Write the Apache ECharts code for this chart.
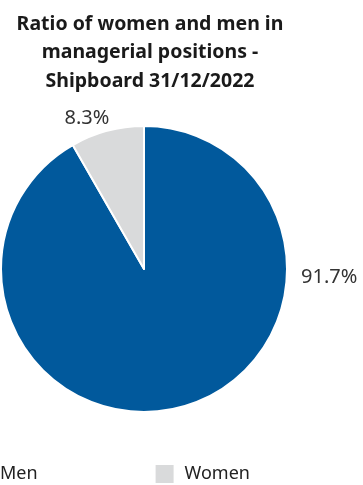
<!DOCTYPE html>
<html><head><meta charset="utf-8">
<script src="https://cdn.jsdelivr.net/npm/echarts@6/dist/echarts.min.js"></script>
<style>html,body{margin:0;padding:0;background:#fff}#c{width:363px;height:485px}</style>
</head><body><div id="c"></div>
<script>
const titleText = 'Ratio of women and men in\nmanagerial positions -\nShipboard 31/12/2022';
const categories = ['Men', 'Women'];
const values = [91.7, 8.3];
const labels = ['91.7%', '8.3%'];
const colors = ['#01599c', '#d9dadb'];

const chart = echarts.init(document.getElementById('c'));
chart.setOption({
  animation: false,
  title: {
    text: titleText,
    left: 145, textAlign: 'center', top: 5,
    textStyle: {fontFamily: 'Noto Sans', fontWeight: 'bold', fontSize: 19.5, lineHeight: 28.5, color: '#1a1a1a'}
  },
  legend: {
    data: categories,
    left: -36, top: 458,
    itemWidth: 20, itemHeight: 20, itemGap: 116,
    icon: 'rect',
    textStyle: {fontFamily: 'Noto Sans', fontSize: 18, color: '#222', padding: [0, 0, 0, 5]}
  },
  series: [{
    type: 'pie',
    center: [144, 269],
    radius: 143,
    startAngle: 90,
    clockwise: true,
    itemStyle: {borderColor: '#fff', borderWidth: 2},
    label: {show: true, position: 'outside', fontFamily: 'Noto Sans', fontSize: 20, color: '#333',
      formatter: p => labels[p.dataIndex]},
    labelLine: {show: false},
    labelLayout: function (p) {
      if (p.dataIndex === 0) return {x: 301, y: 277, align: 'left', verticalAlign: 'middle'};
      return {x: 87, y: 118, align: 'center', verticalAlign: 'middle'};
    },
    data: categories.map((c, i) => ({name: c, value: values[i], itemStyle: {color: colors[i]}}))
  }]
});
</script></body></html>
